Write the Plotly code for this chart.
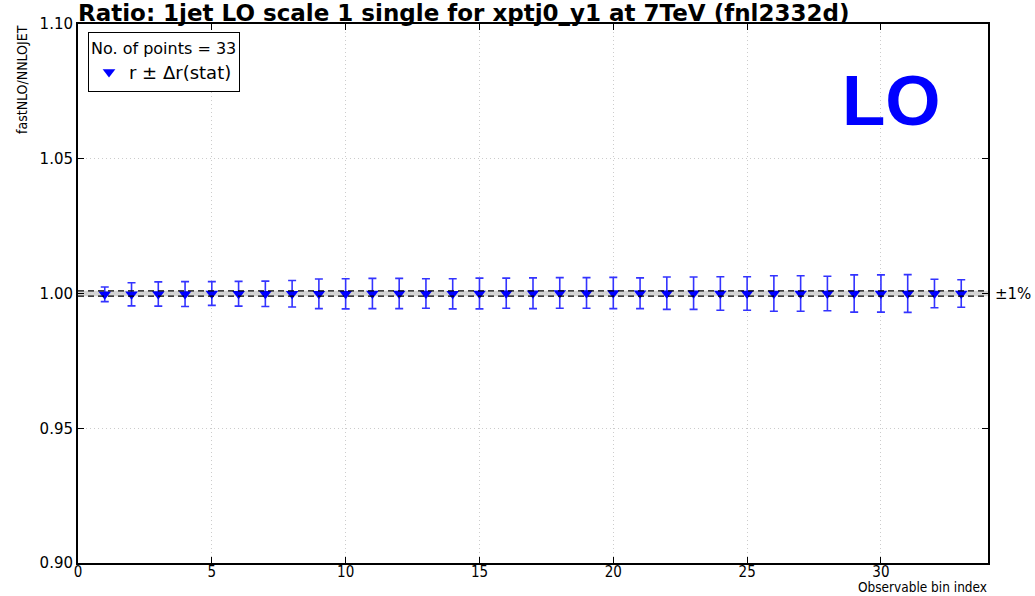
import plotly.graph_objects as go

# Ratio fastNLO / NNLOJET per observable bin, with statistical uncertainty
bin_index = list(range(1, 34))
ratio = [0.9997, 0.9997, 0.9998, 0.9998, 1.0000, 0.9999, 0.9999, 0.9999, 0.9999, 0.9999,
         1.0000, 1.0000, 1.0000, 0.9999, 1.0000, 1.0001, 1.0001, 1.0002, 1.0002, 1.0002,
         1.0001, 1.0001, 1.0001, 1.0000, 1.0000, 1.0000, 1.0000, 1.0000, 1.0000, 1.0000,
         1.0000, 1.0000, 1.0000]
ratio_err = [0.0027, 0.0043, 0.0045, 0.0046, 0.0044, 0.0046, 0.0047, 0.0049, 0.0055, 0.0056,
             0.0056, 0.0056, 0.0055, 0.0056, 0.0057, 0.0056, 0.0057, 0.0057, 0.0057, 0.0058,
             0.0057, 0.0060, 0.0060, 0.0062, 0.0062, 0.0066, 0.0066, 0.0064, 0.0069, 0.0069,
             0.0070, 0.0053, 0.0051]
band_halfwidth = 0.001
band_label = "±1%"
x_range = [0, 34]
y_range = [0.90, 1.10]
title_text = "Ratio: 1jet LO scale 1 single for xptj0_y1 at 7TeV (fnl2332d)"
order_label = "LO"

W, H = 1035, 596
ML, MR, MT, MB = 78, 47, 24, 33
PW, PH = W - ML - MR, H - MT - MB


def px_x(px):
    """figure pixel column -> plot-area paper fraction"""
    return (px - ML) / PW


def px_y(px):
    """figure pixel row -> plot-area paper fraction"""
    return 1 - (px - MT) / PH


fig = go.Figure()

# reference band around unity
fig.add_shape(type="rect", xref="x", yref="y",
              x0=x_range[0], x1=x_range[1],
              y0=1 - band_halfwidth, y1=1 + band_halfwidth,
              fillcolor="rgba(185,185,185,0.6)", line_width=0, layer="below")
for yv in (1 - band_halfwidth, 1 + band_halfwidth):
    fig.add_shape(type="line", xref="x", yref="y",
                  x0=x_range[0], x1=x_range[1], y0=yv, y1=yv,
                  line=dict(color="black", width=1.3, dash="6px,4px"))

fig.add_trace(go.Scatter(
    x=bin_index, y=ratio, mode="markers",
    name="r ± Δr(stat)",
    marker=dict(symbol="triangle-down", size=11, color="#0000ff",
                line=dict(width=0)),
    error_y=dict(type="data", array=ratio_err, visible=True,
                 color="#3333ff", thickness=1.6, width=4),
))

fig.add_annotation(x=1, xref="paper", y=1.0, yref="y", text=band_label,
                   showarrow=False, xanchor="left", xshift=5,
                   font=dict(family="DejaVu Sans", size=15, color="black"))

fig.add_annotation(x=0.894, xref="paper", y=px_y(100), yref="paper",
                   text="<b>%s</b>" % order_label,
                   showarrow=False, xanchor="center", yanchor="middle",
                   font=dict(family="Liberation Sans", size=71, color="#0000ff"))

fig.add_annotation(x=1, xref="paper", y=px_y(596), yref="paper", text="Observable bin index",
                   showarrow=False, xanchor="right", yanchor="bottom", borderpad=0,
                   font=dict(family="DejaVu Sans Condensed, DejaVu Sans", size=13.5, color="black"))

# y-axis label sits near the top of the axis
fig.add_annotation(x=px_x(22), xref="paper", y=px_y(80), yref="paper",
                   text="fastNLO/NNLOJET", textangle=-90,
                   showarrow=False, xanchor="center", yanchor="middle",
                   font=dict(family="DejaVu Sans Condensed, DejaVu Sans", size=14, color="black"))

fig.update_layout(
    width=W, height=H,
    margin=dict(l=ML, r=MR, t=MT, b=MB),
    paper_bgcolor="white", plot_bgcolor="white",
    title=dict(text="<b>%s</b>" % title_text, x=ML / W, xanchor="left",
               y=1 - 13 / H, yanchor="middle",
               font=dict(family="DejaVu Sans", size=23, color="black")),
    showlegend=True,
    legend=dict(x=px_x(88), y=px_y(32), xanchor="left", yanchor="top",
                bgcolor="white", bordercolor="black", borderwidth=1,
                tracegroupgap=0, itemwidth=30,
                title=dict(text="No. of points = %d" % len(bin_index),
                           font=dict(family="DejaVu Sans", size=16, color="black")),
                font=dict(family="DejaVu Sans", size=18, color="black")),
    xaxis=dict(range=x_range, dtick=5, tick0=0, automargin=False,
               showgrid=True, gridcolor="#cccccc", griddash="1px,3px", gridwidth=1,
               zeroline=False, showline=True, linecolor="black", linewidth=2,
               mirror="ticks", ticks="inside", ticklen=6, tickcolor="black",
               ticklabelstandoff=-6,
               tickfont=dict(family="DejaVu Sans Condensed, DejaVu Sans", size=15, color="black")),
    yaxis=dict(range=y_range, dtick=0.05, tick0=0.9, tickformat=".2f", automargin=False,
               showgrid=True, gridcolor="#cccccc", griddash="1px,3px", gridwidth=1,
               zeroline=False, showline=True, linecolor="black", linewidth=2,
               mirror="ticks", ticks="inside", ticklen=6, tickcolor="black",
               tickfont=dict(family="DejaVu Sans", size=15, color="black")),
)

fig.write_html("out.html")
